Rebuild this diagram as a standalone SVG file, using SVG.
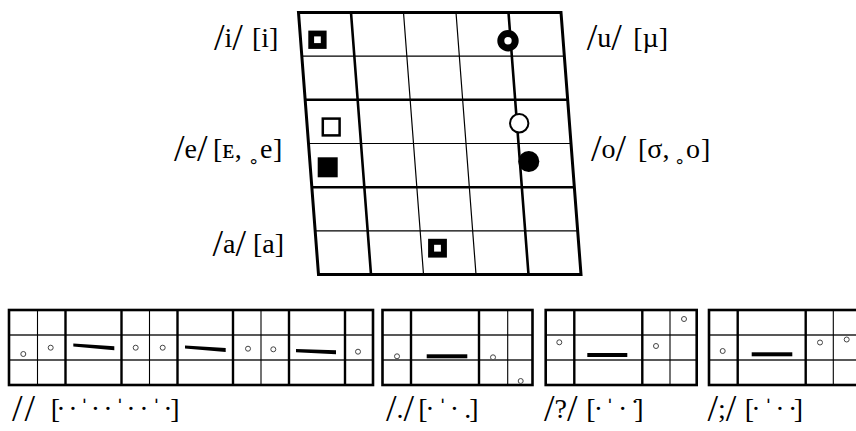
<svg xmlns="http://www.w3.org/2000/svg" width="856" height="431" viewBox="0 0 856 431">
<style>
.bg{fill:#fff}
.bd{fill:none;stroke:#000;stroke-width:3}
.tk{fill:none;stroke:#000;stroke-width:2.6}
.tn{fill:none;stroke:#000;stroke-width:1.2}
.sb{fill:none;stroke:#000;stroke-width:2.6}
.sk{fill:none;stroke:#000;stroke-width:2.4}
.sn{fill:none;stroke:#000;stroke-width:1.1}
.sh{fill:none;stroke:#222;stroke-width:1.3}
.dot{fill:#fff;stroke:#444;stroke-width:1}
.bar{fill:#000}
.t{font-family:"Liberation Serif","DejaVu Serif",serif;font-size:28px;fill:#000}
.sl{font-size:38px}
.m{text-anchor:middle}
</style>
<rect class="bg" x="0" y="0" width="856" height="431"/>

<g id="vowel-chart">
  <g id="grid">
    <path class="tn" d="M301.84 56.2H564.34M308.5 143.5H571M315.17 230.8H577.67M403.5 12.5L423.5 274.5M456 12.5L476 274.5"/>
    <path class="tk" d="M305.16 99.8H567.66M311.84 187.2H574.34M351 12.5L371 274.5M508.5 12.5L528.5 274.5"/>
    <polygon class="bd" points="298.5,12.5 561,12.5 581,274.5 318.5,274.5"/>
  </g>
  <g id="markers">
    <rect x="311.2" y="33.5" width="12.5" height="12.5" fill="none" stroke="#000" stroke-width="5.8"/>
    <rect x="431.1" y="241.8" width="12.8" height="12.8" fill="none" stroke="#000" stroke-width="6"/>
    <rect x="322.8" y="118.6" width="16.8" height="16.8" fill="#fff" stroke="#000" stroke-width="2.5"/>
    <rect x="317.7" y="157.3" width="20" height="20" fill="#000"/>
    <circle cx="508" cy="40.7" r="7.2" fill="#fff" stroke="#000" stroke-width="7"/>
    <circle cx="519.2" cy="123.3" r="9.2" fill="#fff" stroke="#000" stroke-width="2"/>
    <circle cx="528.8" cy="161.5" r="10.5" fill="#000"/>
  </g>
  <g id="labels">
    <text class="t" x="214" y="47"><tspan class="sl" y="50">/</tspan><tspan y="47">i</tspan><tspan class="sl" y="50">/</tspan></text>
    <text class="t" x="252" y="47">[i]</text>
    <text class="t" x="586.7" y="47"><tspan class="sl" y="50">/</tspan><tspan y="47">u</tspan><tspan class="sl" y="50">/</tspan></text>
    <text class="t" x="633.3" y="47">[µ]</text>
    <text class="t" x="174" y="158"><tspan class="sl" y="161">/</tspan><tspan y="158">e</tspan><tspan class="sl" y="161">/</tspan></text>
    <text class="t" x="213" y="158">[ᴇ,<tspan x="249">˳</tspan><tspan x="260">e</tspan><tspan x="273">]</tspan></text>
    <text class="t" x="591" y="158"><tspan class="sl" y="161">/</tspan><tspan y="158">o</tspan><tspan class="sl" y="161">/</tspan></text>
    <text class="t" x="638" y="158">[σ,<tspan x="675">˳</tspan><tspan x="686">o</tspan><tspan x="701">]</tspan></text>
    <text class="t" x="212.5" y="253"><tspan class="sl" y="256">/</tspan><tspan y="253">a</tspan><tspan class="sl" y="256">/</tspan></text>
    <text class="t" x="253" y="253">[a]</text>
  </g>
</g>

<g id="strip1">
  <path class="sh" d="M9 335H373M9 360H373"/>
  <path class="sn" d="M37.5 310V385M149.5 310V385M261 310V385"/>
  <path class="sk" d="M65.5 310V385M121.5 310V385M177.5 310V385M233 310V385M289 310V385M345 310V385"/>
  <rect class="sb" x="9" y="310" width="364" height="75"/>
  <polygon class="bar" points="73.3,343.5 114.3,346.3 114.3,350.3 73.3,346.5"/>
  <polygon class="bar" points="185,345.5 225.7,348 225.7,352 185,348.5"/>
  <polygon class="bar" points="296,349 336,350.3 336,354.3 296,352.3"/>
  <circle class="dot" cx="23.3" cy="354" r="2.5"/>
  <circle class="dot" cx="50.7" cy="347.7" r="2.5"/>
  <circle class="dot" cx="135.7" cy="347.7" r="2.5"/>
  <circle class="dot" cx="162.7" cy="347.7" r="2.5"/>
  <circle class="dot" cx="248" cy="348.7" r="2.5"/>
  <circle class="dot" cx="273.3" cy="349.3" r="2.5"/>
  <circle class="dot" cx="358" cy="351.7" r="2.5"/>
  <text class="t sl" x="12" y="421" letter-spacing="2">//</text>
  <text class="t m" x="55.5 61 73 84.5 95.5 108 120 131 144 156.5 168 175" y="418">[··ˈ··ˈ··ˈ·]</text>
</g>

<g id="strip2">
  <path class="sh" d="M382.5 335H532.5M382.5 360H532.5"/>
  <path class="sn" d="M507.7 310V385"/>
  <path class="sk" d="M411 310V385M479 310V385"/>
  <rect class="sb" x="382.5" y="310" width="150" height="75"/>
  <rect class="bar" x="426.7" y="354.3" width="40.6" height="4"/>
  <circle class="dot" cx="397" cy="356.3" r="2.5"/>
  <circle class="dot" cx="493" cy="357.3" r="2.5"/>
  <circle class="dot" cx="520.7" cy="381" r="2.5"/>
  <text class="t" x="386" y="418"><tspan class="sl" y="421">/</tspan><tspan y="418">.</tspan><tspan class="sl" y="421">/</tspan></text>
  <text class="t m" x="423 430 442.7 454.3 467.7 474" y="418">[·ˈ·.]</text>
</g>

<g id="strip3">
  <path class="sh" d="M545.7 335H696.7M545.7 360H696.7"/>
  <path class="sn" d="M670 310V385"/>
  <path class="sk" d="M574.3 310V385M642.3 310V385"/>
  <rect class="sb" x="545.7" y="310" width="151" height="75"/>
  <rect class="bar" x="587.3" y="353" width="40" height="4"/>
  <circle class="dot" cx="559.3" cy="342.3" r="2.5"/>
  <circle class="dot" cx="656" cy="346" r="2.5"/>
  <circle class="dot" cx="684" cy="319" r="2.5"/>
  <text class="t" x="544" y="418"><tspan class="sl" y="421">/</tspan><tspan y="418">?</tspan><tspan class="sl" y="421">/</tspan></text>
  <text class="t m" x="591 598.3 610 622.7 635 639" y="418">[·ˈ·˙]</text>
</g>

<g id="strip4">
  <path class="sh" d="M709 335H861M709 360H861"/>
  <path class="sn" d="M833.3 310V385"/>
  <path class="sk" d="M737.7 310V385M805.7 310V385"/>
  <rect class="sb" x="709" y="310" width="152" height="75"/>
  <rect class="bar" x="751.7" y="352.3" width="40.6" height="4"/>
  <circle class="dot" cx="722.7" cy="351" r="2.5"/>
  <circle class="dot" cx="820" cy="342.5" r="2.5"/>
  <circle class="dot" cx="846.7" cy="339.5" r="2.5"/>
  <text class="t" x="707.5" y="418"><tspan class="sl" y="421">/</tspan><tspan y="418">;</tspan><tspan class="sl" y="421">/</tspan></text>
  <text class="t m" x="749.5 756 768.3 780 792.7 798.5" y="418">[·ˈ··]</text>
</g>
</svg>
